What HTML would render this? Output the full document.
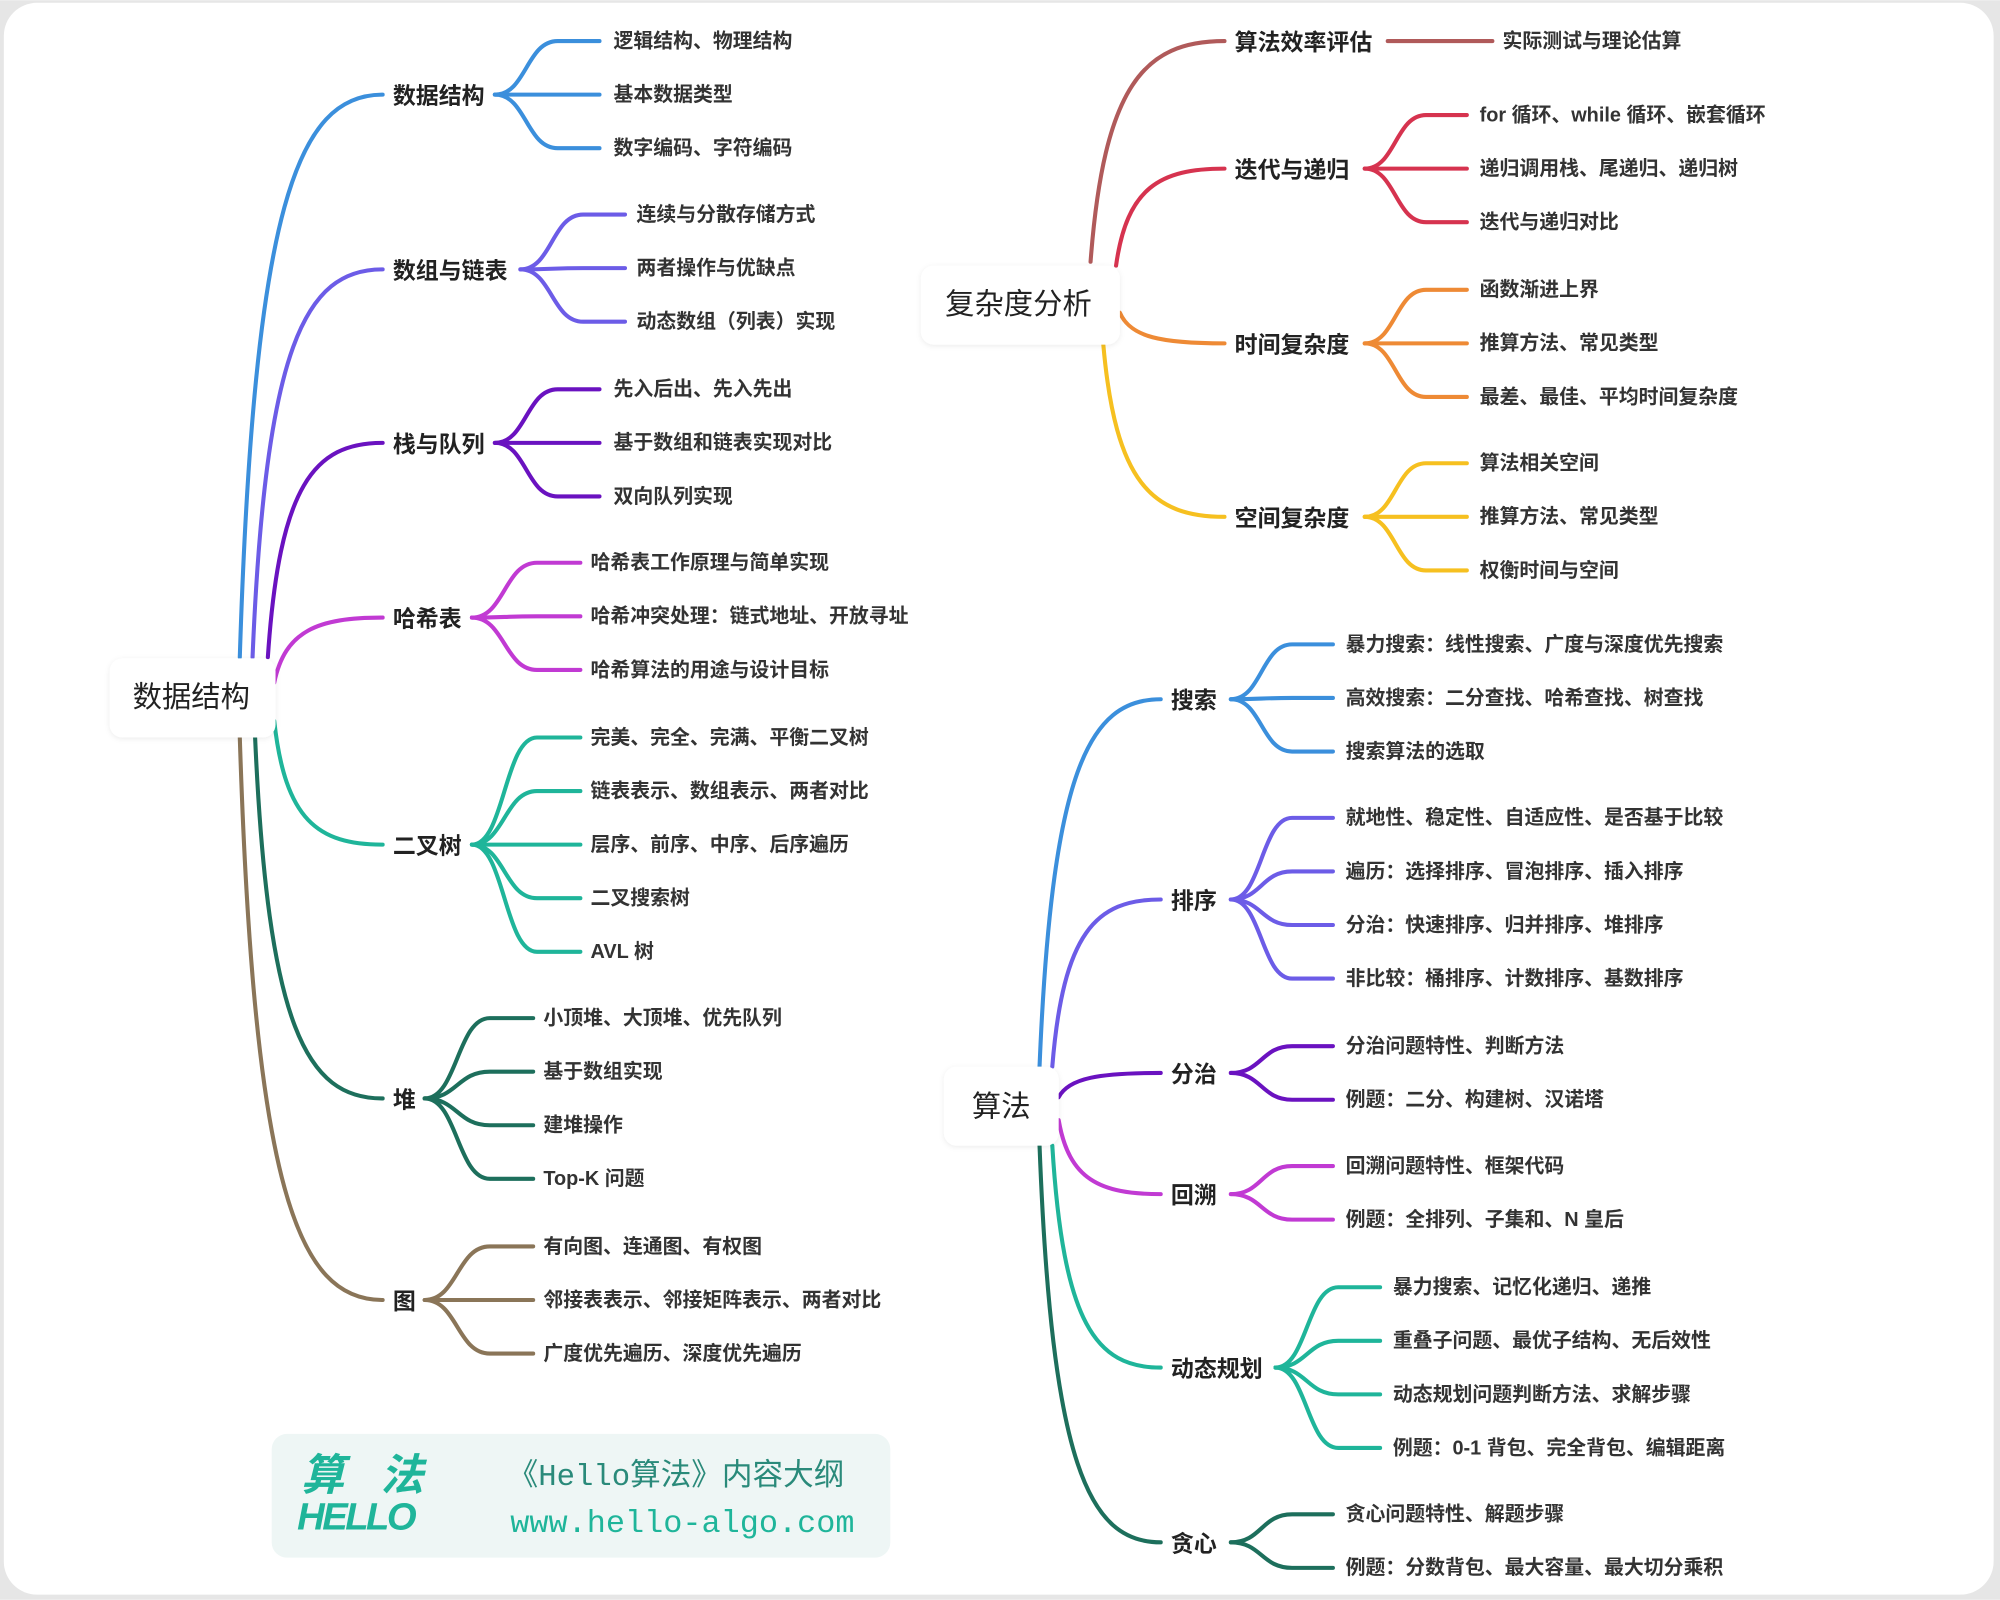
<!DOCTYPE html>
<html><head><meta charset="utf-8"><style>
html,body{margin:0;padding:0;background:#fff;}
svg{display:block}
.r{font-family:"Liberation Sans","Noto Sans CJK SC",sans-serif;font-size:23px;fill:#222}
.b{font-family:"Liberation Sans","Noto Sans CJK SC",sans-serif;font-size:18px;font-weight:bold;fill:#222}
.l{font-family:"Liberation Sans","Noto Sans CJK SC",sans-serif;font-size:15.6px;font-weight:bold;fill:#333}
</style></head><body>
<svg id="s" width="2000" height="1600" viewBox="0 0 1568 1254" xmlns="http://www.w3.org/2000/svg">
<defs><filter id="sh" x="-20%" y="-20%" width="140%" height="140%"><feDropShadow dx="0" dy="1" stdDeviation="2" flood-color="#000" flood-opacity="0.08"/></filter></defs>
<rect x="0" y="0" width="1568" height="1254" fill="#e6e6e6"/>
<rect x="3" y="2" width="1560" height="1248" rx="26" fill="#fff"/>
<g id="p" fill="none" stroke-width="3.2" stroke-linecap="round"></g>
<rect x="86" y="516" width="130" height="62" rx="10" fill="#fff" filter="url(#sh)"/>
<text class="r" x="104" y="554">数据结构</text>
<rect x="722" y="208" width="156" height="62" rx="10" fill="#fff" filter="url(#sh)"/>
<text class="r" x="741" y="246">复杂度分析</text>
<rect x="740" y="836" width="90" height="62" rx="10" fill="#fff" filter="url(#sh)"/>
<text class="r" x="762" y="875">算法</text>
<g class="b">
<text x="308" y="81">数据结构</text>
<text x="308" y="218">数组与链表</text>
<text x="308" y="354">栈与队列</text>
<text x="308" y="491">哈希表</text>
<text x="308" y="669">二叉树</text>
<text x="308" y="868">堆</text>
<text x="308" y="1026">图</text>
<text x="968" y="39">算法效率评估</text>
<text x="968" y="139">迭代与递归</text>
<text x="968" y="276">时间复杂度</text>
<text x="968" y="412">空间复杂度</text>
<text x="918" y="555">搜索</text>
<text x="918" y="712">排序</text>
<text x="918" y="848">分治</text>
<text x="918" y="943">回溯</text>
<text x="918" y="1079">动态规划</text>
<text x="918" y="1216">贪心</text>
</g>
<g class="l">
<text x="481" y="37">逻辑结构、物理结构</text>
<text x="481" y="79">基本数据类型</text>
<text x="481" y="121">数字编码、字符编码</text>
<text x="499" y="173">连续与分散存储方式</text>
<text x="499" y="215">两者操作与优缺点</text>
<text x="499" y="257">动态数组（列表）实现</text>
<text x="481" y="310">先入后出、先入先出</text>
<text x="481" y="352">基于数组和链表实现对比</text>
<text x="481" y="394">双向队列实现</text>
<text x="463" y="446">哈希表工作原理与简单实现</text>
<text x="463" y="488">哈希冲突处理：链式地址、开放寻址</text>
<text x="463" y="530">哈希算法的用途与设计目标</text>
<text x="463" y="583">完美、完全、完满、平衡二叉树</text>
<text x="463" y="625">链表表示、数组表示、两者对比</text>
<text x="463" y="667">层序、前序、中序、后序遍历</text>
<text x="463" y="709">二叉搜索树</text>
<text x="463" y="751">AVL 树</text>
<text x="426" y="803">小顶堆、大顶堆、优先队列</text>
<text x="426" y="845">基于数组实现</text>
<text x="426" y="887">建堆操作</text>
<text x="426" y="929">Top-K 问题</text>
<text x="426" y="982">有向图、连通图、有权图</text>
<text x="426" y="1024">邻接表表示、邻接矩阵表示、两者对比</text>
<text x="426" y="1066">广度优先遍历、深度优先遍历</text>
<text x="1178" y="37">实际测试与理论估算</text>
<text x="1160" y="95">for 循环、while 循环、嵌套循环</text>
<text x="1160" y="137">递归调用栈、尾递归、递归树</text>
<text x="1160" y="179">迭代与递归对比</text>
<text x="1160" y="232">函数渐进上界</text>
<text x="1160" y="274">推算方法、常见类型</text>
<text x="1160" y="316">最差、最佳、平均时间复杂度</text>
<text x="1160" y="368">算法相关空间</text>
<text x="1160" y="410">推算方法、常见类型</text>
<text x="1160" y="452">权衡时间与空间</text>
<text x="1055" y="510">暴力搜索：线性搜索、广度与深度优先搜索</text>
<text x="1055" y="552">高效搜索：二分查找、哈希查找、树查找</text>
<text x="1055" y="594">搜索算法的选取</text>
<text x="1055" y="646">就地性、稳定性、自适应性、是否基于比较</text>
<text x="1055" y="688">遍历：选择排序、冒泡排序、插入排序</text>
<text x="1055" y="730">分治：快速排序、归并排序、堆排序</text>
<text x="1055" y="772">非比较：桶排序、计数排序、基数排序</text>
<text x="1055" y="825">分治问题特性、判断方法</text>
<text x="1055" y="867">例题：二分、构建树、汉诺塔</text>
<text x="1055" y="919">回溯问题特性、框架代码</text>
<text x="1055" y="961">例题：全排列、子集和、N 皇后</text>
<text x="1092" y="1014">暴力搜索、记忆化递归、递推</text>
<text x="1092" y="1056">重叠子问题、最优子结构、无后效性</text>
<text x="1092" y="1098">动态规划问题判断方法、求解步骤</text>
<text x="1092" y="1140">例题：0-1 背包、完全背包、编辑距离</text>
<text x="1055" y="1192">贪心问题特性、解题步骤</text>
<text x="1055" y="1234">例题：分数背包、最大容量、最大切分乘积</text>
</g>
<rect x="213" y="1124" width="485" height="97" rx="12" fill="#eef6f5"/>
<text x="236" y="1168" font-family="Liberation Sans,Noto Sans CJK SC,sans-serif" font-size="34" font-weight="bold" font-style="italic" fill="#1fb59a">算</text>
<text x="298" y="1168" font-family="Liberation Sans,Noto Sans CJK SC,sans-serif" font-size="34" font-weight="bold" font-style="italic" fill="#1fb59a">法</text>
<text x="233" y="1199" font-family="Liberation Sans,sans-serif" font-size="30" font-weight="bold" font-style="italic" fill="#1fb59a" letter-spacing="-2">HELLO</text>
<text x="398" y="1164" font-family="Liberation Mono,Noto Sans CJK SC,sans-serif" font-size="24" fill="#2a8a7a">《Hello算法》内容大纲</text>
<text x="400" y="1201" font-family="Liberation Mono,monospace" font-size="25" fill="#1fb59a">www.hello-algo.com</text>
</svg>
<script>
var g=document.getElementById('p'),NS='http://www.w3.org/2000/svg';
function P(d,c){var e=document.createElementNS(NS,'path');e.setAttribute('d',d);e.setAttribute('stroke',c);g.appendChild(e);}
function br(x0,y0,x1,y1,c){var dx=x1-x0;P('M'+x0+' '+y0+' C'+(x0+dx*0.1)+' '+(y0+(y1-y0)*0.8)+' '+(x0+dx*0.4)+' '+y1+' '+x1+' '+y1,c);}
function fan(x0,y,x1,ys,c){var dx=x1-x0;ys.forEach(function(yl){P('M'+x0+' '+y+' C'+(x0+dx*0.3)+' '+y+' '+(x0+dx*0.3)+' '+yl+' '+(x0+dx*0.6)+' '+yl+' L'+x1+' '+yl,c);});}
var C={bl:'#3b8fdc',pb:'#6c5ce7',dp:'#6a12c0',mg:'#c13ad3',tl:'#1fb59a',dg:'#1d6f5c',br:'#8a7558',rb:'#b05a5a',cr:'#d6334f',or:'#ee8a35',gd:'#f6c020'};
br(188,515,300,74,C.bl);br(198,515,300,211,C.pb);br(210,515,300,347,C.dp);br(215,535,300,484,C.mg);
br(215,565,300,662,C.tl);br(200,578,300,861,C.dg);br(188,578,300,1019,C.br);
fan(388,74,470,[32,74,116],C.bl);fan(408,211,490,[168,210,252],C.pb);fan(388,347,470,[305,347,389],C.dp);
fan(370,484,455,[441,483,525],C.mg);fan(370,662,455,[578,620,662,704,746],C.tl);
fan(333,861,418,[798,840,882,924],C.dg);fan(333,1019,418,[977,1019,1061],C.br);
br(855,205,960,32,C.rb);br(875,208,960,132,C.cr);br(878,245,960,269,C.or);br(865,270,960,405,C.gd);
P('M1088 32 L1170 32',C.rb);
fan(1070,132,1150,[90,132,174],C.cr);fan(1070,269,1150,[227,269,311],C.or);fan(1070,405,1150,[363,405,447],C.gd);
br(815,836,910,548,C.bl);br(825,836,910,705,C.pb);br(830,860,910,841,C.dp);br(830,878,910,936,C.mg);
br(825,898,910,1072,C.tl);br(815,898,910,1209,C.dg);
fan(965,548,1045,[505,547,589],C.bl);fan(965,705,1045,[641,683,725,767],C.pb);fan(965,841,1045,[820,862],C.dp);
fan(965,936,1045,[914,956],C.mg);fan(1000,1072,1082,[1009,1051,1093,1135],C.tl);fan(965,1209,1045,[1187,1229],C.dg);
</script>
</body></html>
